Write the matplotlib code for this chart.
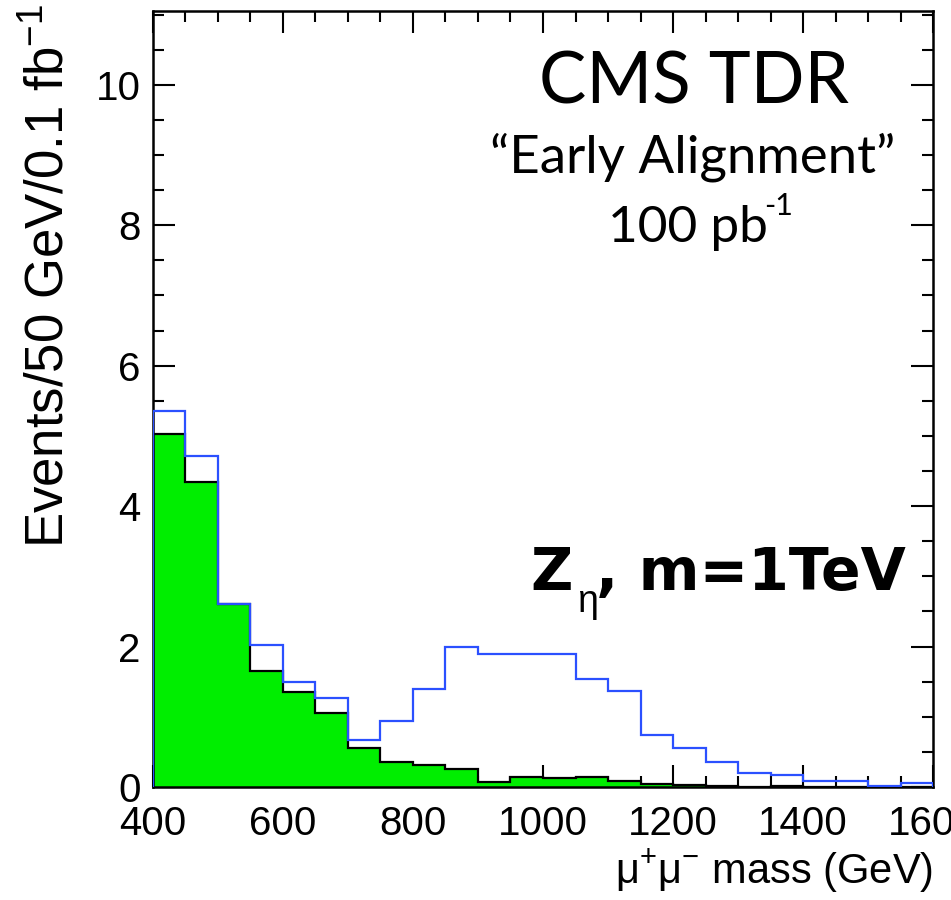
import numpy as np
import matplotlib
matplotlib.use("Agg")
import matplotlib.pyplot as plt
from matplotlib.ticker import MultipleLocator

# ---- data ----
bin_edges = np.arange(400, 1601, 50)
background = [5.03, 4.34, 2.60, 1.65, 1.35, 1.05, 0.55, 0.36, 0.32, 0.25, 0.07, 0.14,
              0.13, 0.14, 0.08, 0.04, 0.03, 0.02, 0.0, 0.02, 0.0, 0.0, 0.0, 0.0]
signal_plus_bkg = [5.36, 4.71, 2.60, 2.02, 1.49, 1.27, 0.67, 0.94, 1.39, 1.99, 1.89, 1.89,
                   1.89, 1.54, 1.36, 0.74, 0.55, 0.36, 0.20, 0.17, 0.09, 0.09, 0.02, 0.06]
x_ticks = [400, 600, 800, 1000, 1200, 1400, 1600]
y_ticks = [0, 2, 4, 6, 8, 10]

W, H = 951, 900
fig = plt.figure(figsize=(W / 100, H / 100), dpi=100)
L, R, T, B = 153, 933, 11, 787
ax = fig.add_axes([L / W, 1 - B / H, (R - L) / W, (B - T) / H])


def fx(px):
    return px / W


def fy(py):
    return 1 - py / H


ax.stairs(background, bin_edges, fill=True, color='#00ee00', zorder=2)
ax.stairs(background, bin_edges, color='black', linewidth=1.6, zorder=3)
ax.stairs(signal_plus_bkg, bin_edges, color='#2b50ff', linewidth=1.6, zorder=4)

ax.set_xlim(400, 1600)
ax.set_ylim(0, 11.05)
ax.set_xticks(x_ticks)
ax.set_yticks(y_ticks)
ax.xaxis.set_minor_locator(MultipleLocator(50))
ax.yaxis.set_minor_locator(MultipleLocator(0.5))
ax.tick_params(which='both', direction='in', top=True, right=True, width=1.5, color='black')
ax.tick_params(which='major', length=16, pad=9)
ax.tick_params(axis='x', which='major', pad=13)
ax.tick_params(which='minor', length=8)
for lab in ax.get_xticklabels() + ax.get_yticklabels():
    lab.set_fontfamily('Liberation Sans')
    lab.set_fontsize(29)
for s in ax.spines.values():
    s.set_linewidth(1.8)

ax.set_xlabel(r'μ$\mathregular{^{+}}$μ$\mathregular{^{-}}$ mass (GeV)', family='Liberation Sans',
              fontsize=30, loc='right', labelpad=3)
fig.text(fx(49), fy(4), r'Events/50 GeV/0.1 fb$\mathregular{^{-1}}$', family='Liberation Sans',
         fontsize=38, rotation=90, ha='center', va='top')

fig.text(fx(694), fy(103), 'CMS TDR', family='Lato', fontsize=51, ha='center', va='baseline')
fig.text(fx(693), fy(172), '\u201cEarly Alignment\u201d', family='Lato', fontsize=38,
         ha='center', va='baseline')
fig.text(fx(608), fy(242), '100 pb', family='Lato', fontsize=37, ha='left', va='baseline')
fig.text(fx(764), fy(215), '-1', family='Lato', fontsize=22, ha='left', va='baseline')

fig.text(fx(530), fy(590), 'Z', family='DejaVu Sans', fontsize=42, fontweight='bold',
         ha='left', va='baseline')
fig.text(fx(577), fy(612), 'η', family='Liberation Sans', fontsize=27, ha='left', va='baseline')
fig.text(fx(596), fy(590), ', m=1TeV', family='DejaVu Sans', fontsize=42, fontweight='bold',
         ha='left', va='baseline')

fig.savefig('out.png', dpi=100)
